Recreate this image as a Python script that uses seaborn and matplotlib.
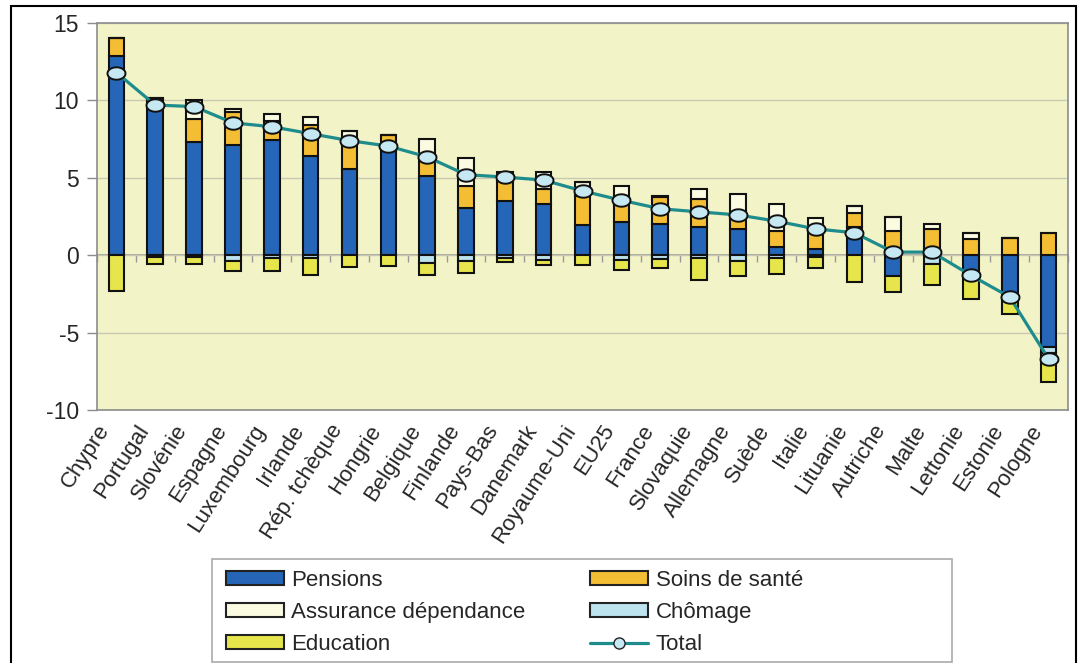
import numpy as np
import pandas as pd
import seaborn as sns
import matplotlib.pyplot as plt
from matplotlib.patches import Patch, Rectangle
from matplotlib.lines import Line2D
from matplotlib.transforms import ScaledTranslation

# --- data ---
countries = ["Chypre", "Portugal", "Slovénie", "Espagne", "Luxembourg", "Irlande",
             "Rép. tchèque", "Hongrie", "Belgique", "Finlande", "Pays-Bas", "Danemark",
             "Royaume-Uni", "EU25", "France", "Slovaquie", "Allemagne", "Suède", "Italie",
             "Lituanie", "Autriche", "Malte", "Lettonie", "Estonie", "Pologne"]
pensions = [12.9, 10.1, 7.3, 7.15, 7.45, 6.4, 5.6, 6.75, 5.1, 3.05, 3.5, 3.3, 1.95,
            2.15, 2.0, 1.8, 1.7, 0.55, 0.4, 1.8, -1.35, 0.4, -1.35, -2.8, -5.95]
sante = [1.1, 0.05, 1.5, 2.1, 1.25, 2.0, 1.55, 1.0, 1.2, 1.4, 1.3, 0.95, 1.85,
         1.15, 1.75, 1.85, 0.65, 1.0, 1.15, 0.95, 1.55, 1.3, 1.05, 1.1, 1.45]
dependance = [0.0, 0.0, 1.25, 0.2, 0.45, 0.55, 0.85, 0.0, 1.2, 1.85, 0.6, 1.15, 0.9,
              1.15, 0.1, 0.65, 1.6, 1.75, 0.85, 0.4, 0.95, 0.3, 0.4, 0.0, 0.0]
chomage = [0.0, -0.1, -0.1, -0.35, -0.15, -0.15, 0.0, 0.0, -0.5, -0.4, -0.15, -0.3, 0.0,
           -0.3, -0.25, -0.2, -0.35, -0.2, -0.1, 0.0, 0.0, -0.55, 0.0, 0.0, -0.4]
education = [-2.3, -0.45, -0.45, -0.7, -0.9, -1.1, -0.75, -0.7, -0.75, -0.75, -0.3, -0.35,
             -0.65, -0.65, -0.6, -1.4, -1.0, -1.0, -0.7, -1.75, -1.0, -1.35, -1.45, -1.0, -1.85]
total = [11.8, 9.7, 9.6, 8.55, 8.3, 7.85, 7.4, 7.05, 6.35, 5.2, 5.05, 4.85, 4.15,
         3.55, 3.0, 2.8, 2.6, 2.2, 1.7, 1.45, 0.2, 0.2, -1.3, -2.7, -6.7]

series_names = ["Pensions", "Soins de santé", "Assurance dépendance", "Chômage", "Education"]
series_vals = [pensions, sante, dependance, chomage, education]
series_colors = ["#2566B8", "#F4BE34", "#FBFBE2", "#BDE3EE", "#E6E54B"]

sns.set_style("white")
plt.rcParams['font.family'] = ['Liberation Sans', 'DejaVu Sans']
plt.rcParams['axes.unicode_minus'] = False

W, H = 1081, 663
fig = plt.figure(figsize=(W / 100, H / 100), dpi=100)
ax = fig.add_axes([97 / W, 1 - 410 / H, (1068 - 97) / W, (410 - 23) / H])
ax.set_facecolor("#F3F3C8")

# stacked bars: positives stack upward, negatives downward
n = len(countries)
pos_base = np.zeros(n)
neg_base = np.zeros(n)
for name, vals, col in zip(series_names, series_vals, series_colors):
    vals = np.array(vals, dtype=float)
    bottom = np.where(vals >= 0, pos_base, neg_base)
    df = pd.DataFrame({"pays": countries, "val": vals})
    sns.barplot(data=df, x="pays", y="val", order=countries, color=col, width=0.4,
                bottom=bottom, edgecolor="#111111", linewidth=1.5, saturation=1,
                errorbar=None, ax=ax)
    pos_base = pos_base + np.clip(vals, 0, None)
    neg_base = neg_base + np.clip(vals, None, 0)

# total line with elliptic markers
t = np.linspace(0, 2 * np.pi, 40)
ellipse = list(zip(1.45 * np.cos(t), np.sin(t)))
sns.lineplot(x=np.arange(n), y=total, color="#1E8C8C", linewidth=2.3,
             marker=ellipse, markersize=13, markerfacecolor="#C6E8F2",
             markeredgecolor="#111111", markeredgewidth=1.4, errorbar=None, ax=ax)

ax.set_xlim(-0.5, n - 0.5)
ax.set_ylim(-10, 15)
ax.set_yticks([-10, -5, 0, 5, 10, 15])
ax.yaxis.grid(True, color="#C9C9B2", linewidth=1)
ax.set_axisbelow(True)
for s in ax.spines.values():
    s.set_color("#8C8C8C")
    s.set_linewidth(1.2)
ax.tick_params(axis="y", direction="out", length=7, color="#8C8C8C", width=1,
               labelsize=16.5, pad=6, left=True)
ax.set_xticks(range(n))
ax.set_xticklabels(countries, rotation=57, ha="right", va="center",
                   rotation_mode="anchor", fontsize=16)
ax.tick_params(axis="x", length=0, pad=12)
shift = ScaledTranslation(-8 / 72, 0, fig.dpi_scale_trans)
for lab in ax.get_xticklabels():
    lab.set_transform(lab.get_transform() + shift)
ax.set_xlabel("")
ax.set_ylabel("")

# zero line with boundary ticks
sec = ax.secondary_xaxis(0.4)
sec.set_xticks(np.arange(n + 1) - 0.5)
sec.set_xticklabels([])
sec.tick_params(length=5, direction="out", color="#9A9A9A", width=1)
sec.spines["bottom"].set_color("#9A9A9A")
sec.spines["bottom"].set_linewidth(1.2)

# outer frame
fig.patches.append(Rectangle((11 / W, -0.05), (1076 - 11) / W, 1.05 - 6 / H,
                             transform=fig.transFigure, fill=False,
                             edgecolor="black", linewidth=1.5))

# legend
handles = [Patch(facecolor=c, edgecolor="#222222", linewidth=1.5) for c in series_colors]
handles.append(Line2D([0], [0], color="#1E8C8C", linewidth=2.3, marker="o",
                      markersize=8, markerfacecolor="#C6E8F2", markeredgecolor="#222222"))
labels = series_names + ["Total"]
idx = [0, 2, 4, 1, 3, 5]
fig.patches.append(Rectangle((212 / W, 1 - 662 / H), (952 - 212) / W, (662 - 559) / H,
                             transform=fig.transFigure, fill=False,
                             edgecolor="#AAAAAA", linewidth=1.2))
fig.legend([handles[i] for i in idx], [labels[i] for i in idx], ncol=2,
           loc="upper left", bbox_to_anchor=(208 / W, 1 - 552 / H), frameon=False,
           fontsize=16, handlelength=2.6, handleheight=0.55, handletextpad=0.35,
           labelspacing=0.5, columnspacing=2.9, borderpad=0.3)

fig.savefig("out.png", dpi=100)
